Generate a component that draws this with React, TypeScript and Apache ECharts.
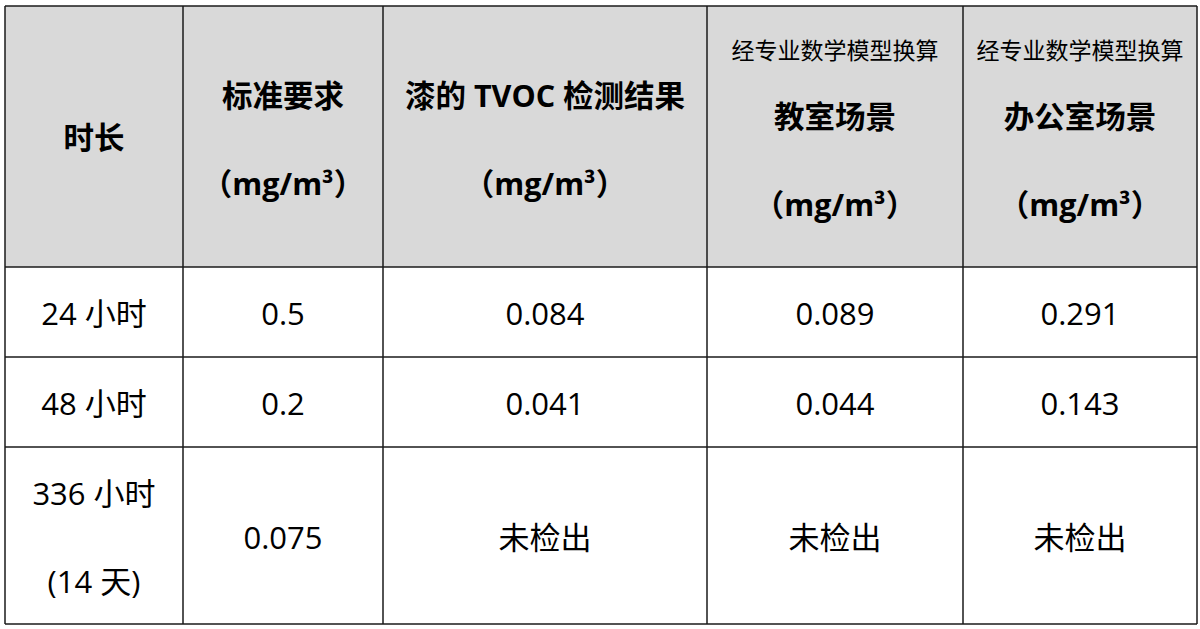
import React, { useEffect, useRef } from "react";
import * as echarts from "echarts";

// ---- data ----
const headerDuration = ["时长"];
const headerStandard = ["标准要求", "（mg/m³）"];
const headerPaint = ["漆的 TVOC 检测结果", "（mg/m³）"];
const headerClassroom = ["经专业数学模型换算", "教室场景", "（mg/m³）"];
const headerOffice = ["经专业数学模型换算", "办公室场景", "（mg/m³）"];

const durations = ["24 小时", "48 小时", "336 小时\n(14 天)"];
const standardValues = ["0.5", "0.2", "0.075"];
const paintValues = ["0.084", "0.041", "未检出"];
const classroomValues = ["0.089", "0.044", "未检出"];
const officeValues = ["0.291", "0.143", "未检出"];

// ---- layout ----
const colEdges = [5, 183, 383, 707, 963, 1197];
const rowEdges = [6, 267, 357, 447, 624];
const FONT = "'Open Sans', 'Noto Sans CJK SC', sans-serif";
const LINE = "#1a1a1a";
const HEADER_BG = "#d9d9d9";

// header line vertical offsets relative to header cell center, by line count
const headerOffsets: Record<number, number[]> = {
  1: [0],
  2: [-42, 46],
  3: [-87, -21, 67],
};

function buildGraphics() {
  const els: any[] = [];
  const top = rowEdges[0];
  const bottom = rowEdges[rowEdges.length - 1];
  const left = colEdges[0];
  const right = colEdges[colEdges.length - 1];

  // header background
  els.push({
    type: "rect",
    shape: { x: left, y: top, width: right - left, height: rowEdges[1] - top },
    style: { fill: HEADER_BG },
  });

  const headers = [headerDuration, headerStandard, headerPaint, headerClassroom, headerOffice];
  const hc = (rowEdges[0] + rowEdges[1]) / 2;
  headers.forEach((lines, c) => {
    const cx = (colEdges[c] + colEdges[c + 1]) / 2;
    const offs = headerOffsets[lines.length];
    lines.forEach((t, i) => {
      const small = lines.length === 3 && i === 0;
      els.push({
        type: "text",
        x: cx,
        y: hc + offs[i],
        style: {
          text: t,
          fill: "#000",
          fontFamily: FONT,
          fontSize: small ? 23 : 30.5,
          fontWeight: small ? "normal" : "bold",
          align: "center",
          verticalAlign: "middle",
        },
      });
    });
  });

  const columns = [durations, standardValues, paintValues, classroomValues, officeValues];
  columns.forEach((vals, c) => {
    const cx = (colEdges[c] + colEdges[c + 1]) / 2;
    vals.forEach((v, r) => {
      const cy = (rowEdges[r + 1] + rowEdges[r + 2]) / 2;
      els.push({
        type: "text",
        x: cx,
        y: cy + 1,
        style: {
          text: v,
          fill: "#000",
          fontFamily: FONT,
          fontSize: 31,
          lineHeight: 88,
          align: "center",
          verticalAlign: "middle",
        },
      });
    });
  });

  // grid lines
  rowEdges.forEach((y) => {
    els.push({
      type: "line",
      shape: { x1: left, y1: y, x2: right, y2: y },
      style: { stroke: LINE, lineWidth: 1.5 },
    });
  });
  colEdges.forEach((x) => {
    els.push({
      type: "line",
      shape: { x1: x, y1: top, x2: x, y2: bottom },
      style: { stroke: LINE, lineWidth: 1.5 },
    });
  });
  return els;
}

export default function App() {
  const ref = useRef<HTMLDivElement>(null);
  useEffect(() => {
    if (!ref.current) return;
    const chart = echarts.init(ref.current, undefined, { renderer: "svg" });
    chart.setOption({
      animation: false,
      backgroundColor: "#ffffff",
      graphic: { elements: buildGraphics() },
    });
    return () => chart.dispose();
  }, []);
  return (
    <div
      ref={ref}
      style={{ position: "fixed", left: 0, top: 0, width: 1200, height: 629, background: "#fff" }}
    />
  );
}
